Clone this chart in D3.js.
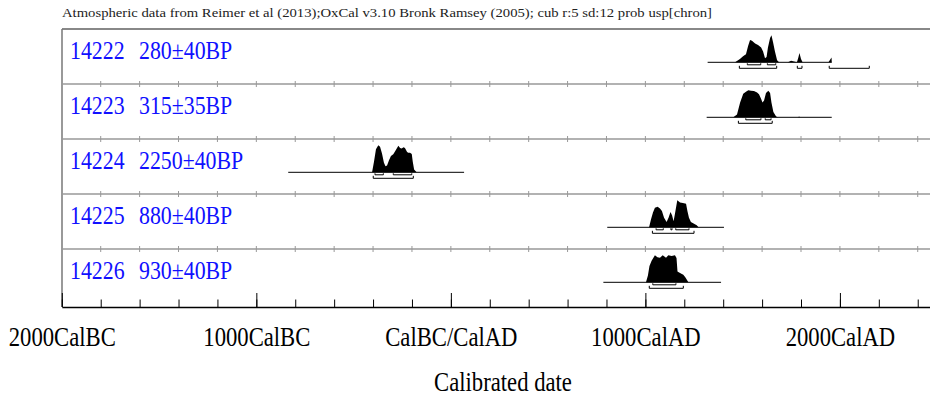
<!DOCTYPE html>
<html>
<head>
<meta charset="utf-8">
<script src="https://cdn.jsdelivr.net/npm/d3@7"></script>
<style>
  body { margin: 0; background: #fff; }
  svg { display: block; font-family: "Liberation Serif", "DejaVu Serif", serif; }
</style>
</head>
<body>
<svg id="chart" width="930" height="395"></svg>
<script>
// sample names and ages
const samples = ["14222", "14223", "14224", "14225", "14226"];
const ages = ["280\u00b140BP", "315\u00b135BP", "2250\u00b140BP", "880\u00b140BP", "930\u00b140BP"];

// extent of the thin base line under each distribution (cal years, BC negative)
const spans = [[1320, 1958], [1315, 1958], [-836, 68], [804, 1404], [784, 1389]];

// probability distributions: [year, relative probability]
const dist14222 = [[1461,0],[1486,0.12],[1502,0.22],[1517,0.3],[1528,0.6],[1538,0.83],[1548,0.8],
  [1564,0.7],[1579,0.64],[1595,0.55],[1605,0.4],[1615,0.15],[1623,0.2],[1630,0.55],[1641,0.9],
  [1648,1.0],[1656,0.75],[1666,0.4],[1677,0.08],[1687,0],[1733,0],[1749,0.06],[1764,0.03],
  [1779,0],[1787,0.2],[1792,0.34],[1800,0.12],[1808,0],[1941,0],[1952,0.12],[1957,0.18],[1958,0]];
const dist14223 = [[1452,0],[1471,0.1],[1487,0.55],[1503,0.87],[1517,0.95],[1529,1.0],[1543,0.98],
  [1558,0.97],[1574,0.92],[1584,0.85],[1594,0.7],[1602,0.55],[1610,0.62],[1620,0.9],[1632,0.98],
  [1641,0.9],[1648,0.55],[1658,0.2],[1672,0.03],[1682,0],[1785,0],[1790,0.03],[1795,0]];
const dist14224 = [[-405,0],[-395,0.4],[-385,0.85],[-373,1.0],[-364,0.95],[-354,0.7],[-344,0.35],
  [-336,0.22],[-328,0.25],[-318,0.45],[-308,0.6],[-296,0.67],[-285,0.8],[-270,0.98],[-261,0.9],
  [-253,0.88],[-243,0.93],[-236,0.9],[-225,0.75],[-219,0.72],[-210,0.72],[-201,0.68],[-196,0.4],
  [-189,0.1],[-176,0]];
const dist14225 = [[1019,0],[1029,0.3],[1039,0.55],[1049,0.72],[1063,0.76],[1075,0.7],[1085,0.6],
  [1096,0.35],[1109,0.2],[1119,0.35],[1129,0.57],[1137,0.45],[1145,0.22],[1152,0.5],[1164,1.0],
  [1178,0.92],[1193,0.9],[1209,0.87],[1216,0.6],[1224,0.35],[1234,0.2],[1250,0.13],[1264,0.08],
  [1273,0]];
const dist14226 = [[1003,0],[1013,0.25],[1021,0.6],[1032,0.8],[1049,1.0],[1062,0.93],[1075,0.91],
  [1089,1.0],[1106,0.91],[1118,1.0],[1135,0.97],[1152,1.0],[1160,0.9],[1165,0.4],[1178,0.34],
  [1195,0.28],[1206,0.18],[1221,0]];
const dists = [dist14222, dist14223, dist14224, dist14225, dist14226];

// 68.2% and 95.4% ranges
const range68 = [
  [[1524, 1593], [1627, 1670]],
  [[1516, 1594], [1616, 1646]],
  [[-390, -347], [-296, -201]],
  [[1055, 1092], [1131, 1137], [1156, 1224]],
  [[1038, 1157]]
];
const range95 = [
  [[1483, 1675], [1781, 1805], [1945, 2151]],
  [[1478, 1652]],
  [[-399, -193]],
  [[1036, 1250]],
  [[1020, 1195]]
];

// axis ticks
const majorTicks = [-2000, -1000, 0, 1000, 2000];
const majorLabels = ["2000CalBC", "1000CalBC", "CalBC/CalAD", "1000CalAD", "2000CalAD"];
const minorTicks = d3.range(-2000, 2600, 200);

const svg = d3.select("#chart");
const plotLeft = 61.8, pxPerYear = 0.19453;
const plotTop = 29, rowH = 55, plotBottom = 307;
const peakH = 27;
const squeeze = 0.84;

const x = d3.scaleLinear()
  .domain([-2000, 2500])
  .range([plotLeft, plotLeft + 4500 * pxPerYear]);

// header
svg.append("text")
  .attr("x", 62)
  .attr("y", 17)
  .attr("font-size", 13)
  .attr("fill", "#222")
  .attr("textLength", 650)
  .attr("lengthAdjust", "spacingAndGlyphs")
  .text("Atmospheric data from Reimer et al (2013);OxCal v3.10 Bronk Ramsey (2005); cub r:5 sd:12 prob usp[chron]");

// frame
svg.append("line")
  .attr("x1", 62).attr("x2", 930)
  .attr("y1", plotTop).attr("y2", plotTop)
  .attr("stroke", "#888").attr("stroke-width", 2);
svg.append("line")
  .attr("x1", 62).attr("x2", 62)
  .attr("y1", plotTop).attr("y2", plotBottom)
  .attr("stroke", "#777").attr("stroke-width", 1.5);

// row separators with small ticks
for (let i = 1; i < samples.length; i++) {
  const yy = plotTop + rowH * i;
  const g = svg.append("g");
  g.append("line")
    .attr("x1", 62).attr("x2", 930)
    .attr("y1", yy).attr("y2", yy)
    .attr("stroke", "#999").attr("stroke-width", 1.5);
  g.selectAll("line.t")
    .data(minorTicks.filter(d => d > -2000))
    .enter()
    .append("line")
    .attr("class", "t")
    .attr("x1", d => x(d)).attr("x2", d => x(d))
    .attr("y1", yy - 3).attr("y2", yy + 3)
    .attr("stroke", "#999").attr("stroke-width", 1);
}

// rows
samples.forEach((s, i) => {
  const base = plotTop + rowH * i + 33.3;
  const g = svg.append("g");

  // labels
  g.append("text")
    .attr("transform", "translate(70," + (plotTop + rowH * i + 30) + ") scale(" + squeeze + ",1)")
    .attr("font-size", 26)
    .attr("fill", "#1010ff")
    .text(s);
  g.append("text")
    .attr("transform", "translate(139," + (plotTop + rowH * i + 30) + ") scale(" + squeeze + ",1)")
    .attr("font-size", 26)
    .attr("fill", "#1010ff")
    .text(ages[i]);

  // base line
  g.append("line")
    .attr("x1", x(spans[i][0])).attr("x2", x(spans[i][1]))
    .attr("y1", base).attr("y2", base)
    .attr("stroke", "#000").attr("stroke-width", 1);

  // distribution
  const area = d3.area()
    .x(d => x(d[0]))
    .y0(base)
    .y1(d => base - d[1] * peakH);
  g.append("path")
    .datum(dists[i])
    .attr("d", area)
    .attr("fill", "#000");

  // range brackets
  const bracket = (r, yy, h) => {
    const p = d3.path();
    p.moveTo(x(r[0]), yy - h);
    p.lineTo(x(r[0]), yy);
    p.lineTo(x(r[1]), yy);
    p.lineTo(x(r[1]), yy - h);
    return p.toString();
  };
  g.selectAll("path.r68")
    .data(range68[i])
    .enter()
    .append("path")
    .attr("class", "r68")
    .attr("d", r => bracket(r, base + 2.5, 1.5))
    .attr("fill", "none").attr("stroke", "#000").attr("stroke-width", 1);
  g.selectAll("path.r95")
    .data(range95[i])
    .enter()
    .append("path")
    .attr("class", "r95")
    .attr("d", r => bracket(r, base + 6, 2.5))
    .attr("fill", "none").attr("stroke", "#000").attr("stroke-width", 1);
});

// bottom axis
const axisG = svg.append("g").attr("transform", "translate(0," + plotBottom + ")");
axisG.append("g")
  .call(d3.axisBottom(x).tickValues(minorTicks).tickSize(-7.5).tickSizeOuter(0).tickFormat(""))
  .call(g => g.select(".domain").attr("stroke-width", 1.5));
axisG.append("g")
  .call(d3.axisBottom(x).tickValues(majorTicks).tickSize(-14).tickSizeOuter(0)
    .tickFormat((d, k) => majorLabels[k]))
  .call(g => g.select(".domain").remove())
  .call(g => g.selectAll("text")
    .attr("y", 39)
    .attr("dy", 0)
    .attr("font-size", 27)
    .attr("font-family", "Liberation Serif, serif")
    .attr("fill", "#000")
    .attr("transform", "scale(" + squeeze + ",1)"));

// axis title
svg.append("text")
  .attr("transform", "translate(503,391) scale(" + squeeze + ",1)")
  .attr("text-anchor", "middle")
  .attr("font-size", 27)
  .text("Calibrated date");
</script>
</body>
</html>
